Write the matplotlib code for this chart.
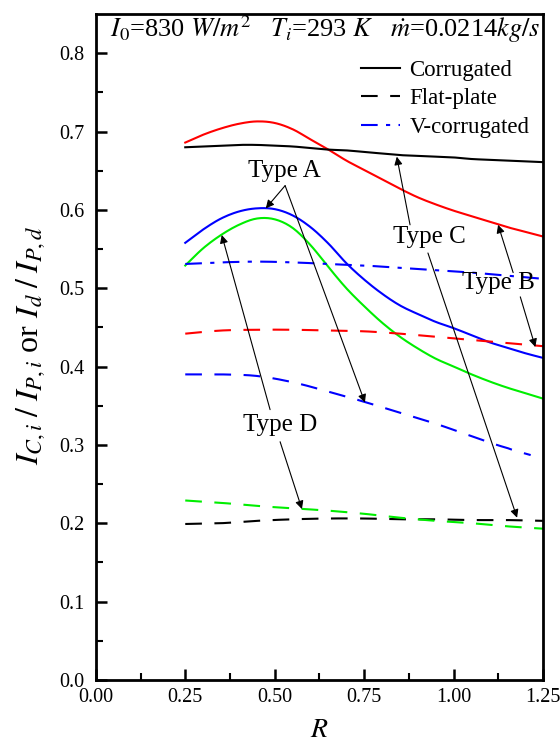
import matplotlib
matplotlib.use("Agg")
import matplotlib.pyplot as plt
import numpy as np

plt.rcParams['font.family'] = ['Liberation Serif', 'DejaVu Serif']
plt.rcParams['mathtext.fontset'] = 'stix'

# Data
R_full = [0.25, 0.30, 0.35, 0.40, 0.45, 0.50, 0.55, 0.60, 0.65, 0.70, 0.75,
          0.80, 0.85, 0.90, 0.95, 1.00, 1.05, 1.10, 1.15, 1.20, 1.25]
corr_solid = [0.680, 0.681, 0.682, 0.683, 0.683, 0.682, 0.681, 0.679, 0.677, 0.676, 0.674,
              0.672, 0.670, 0.669, 0.668, 0.667, 0.665, 0.664, 0.663, 0.662, 0.661]
red_solid = [0.686, 0.696, 0.704, 0.710, 0.713, 0.711, 0.703, 0.690, 0.677, 0.663, 0.651,
             0.639, 0.627, 0.616, 0.607, 0.599, 0.592, 0.585, 0.578, 0.572, 0.566]
blue_solid = [0.558, 0.575, 0.589, 0.598, 0.602, 0.601, 0.593, 0.578, 0.557, 0.532, 0.511,
              0.493, 0.478, 0.467, 0.457, 0.449, 0.440, 0.431, 0.424, 0.417, 0.411]
green_solid = [0.529, 0.551, 0.568, 0.581, 0.589, 0.588, 0.577, 0.555, 0.527, 0.500, 0.477,
               0.456, 0.438, 0.423, 0.410, 0.400, 0.390, 0.381, 0.373, 0.366, 0.359]

R_coarse = [0.25, 0.35, 0.45, 0.55, 0.65, 0.75, 0.85, 0.95, 1.05, 1.15, 1.25]
vcorr_dashdot = [0.531, 0.533, 0.534, 0.533, 0.531, 0.529, 0.526, 0.523, 0.520, 0.516, 0.512]
red_dashed = [0.442, 0.446, 0.447, 0.447, 0.446, 0.445, 0.442, 0.438, 0.434, 0.430, 0.426]
green_dashed = [0.229, 0.226, 0.222, 0.219, 0.216, 0.212, 0.207, 0.203, 0.200, 0.196, 0.193]
flat_dashed = [0.199, 0.200, 0.203, 0.205, 0.206, 0.206, 0.205, 0.205, 0.204, 0.204, 0.203]

R_blue_dashed = [0.25, 0.35, 0.45, 0.55, 0.65, 0.75, 0.85, 0.95, 1.05, 1.15, 1.215]
blue_dashed = [0.390, 0.390, 0.388, 0.380, 0.368, 0.355, 0.341, 0.327, 0.311, 0.296, 0.287]

x_ticks = [0.00, 0.25, 0.50, 0.75, 1.00, 1.25]
y_ticks = [0.0, 0.1, 0.2, 0.3, 0.4, 0.5, 0.6, 0.7, 0.8]

def smooth(x, y, n=200):
    x = np.asarray(x); y = np.asarray(y)
    xs = np.linspace(x[0], x[-1], n)
    out = np.empty_like(xs)
    for k, xv in enumerate(xs):
        i = min(max(np.searchsorted(x, xv) - 1, 0), len(x) - 2)
        p0 = y[i - 1] if i > 0 else 2 * y[i] - y[i + 1]
        p1, p2 = y[i], y[i + 1]
        p3 = y[i + 2] if i + 2 < len(y) else 2 * y[i + 1] - y[i]
        t = (xv - x[i]) / (x[i + 1] - x[i])
        out[k] = 0.5 * ((2 * p1) + (-p0 + p2) * t + (2 * p0 - 5 * p1 + 4 * p2 - p3) * t ** 2
                        + (-p0 + 3 * p1 - 3 * p2 + p3) * t ** 3)
    return xs, out

fig = plt.figure(figsize=(5.6, 7.43), dpi=100)
ax = fig.add_axes([0.171, 0.085, 0.799, 0.896])

lw = 1.5
dash = (0, (8, 6))
ax.plot(*smooth(R_full, red_solid), color='#ff0000', lw=lw)
ax.plot(*smooth(R_full, corr_solid), color='black', lw=lw, label='Corrugated')
ax.plot(*smooth(R_full, blue_solid), color='#0000ff', lw=lw)
ax.plot(*smooth(R_full, green_solid), color='#00ee00', lw=lw)
ax.plot(*smooth(R_coarse, flat_dashed), color='black', lw=lw, linestyle=dash, label='Flat-plate')
ax.plot(*smooth(R_coarse, vcorr_dashdot), color='#0000ff', lw=lw, linestyle=(0, (8, 4, 2, 4)),
        label='V-corrugated')
ax.plot(*smooth(R_coarse, red_dashed), color='#ff0000', lw=lw, linestyle=dash)
ax.plot(*smooth(R_blue_dashed, blue_dashed), color='#0000ff', lw=lw, linestyle=dash)
ax.plot(*smooth(R_coarse, green_dashed), color='#00ee00', lw=lw, linestyle=dash)

ax.set_xlim(0, 1.25)
ax.set_ylim(0, 0.85)
ax.set_xticks(x_ticks)
ax.set_xticklabels([f"{v:.2f}" for v in x_ticks])
ax.set_yticks(y_ticks)
ax.set_yticklabels([f"{v:.1f}" for v in y_ticks])
ax.set_xticks(np.arange(0.125, 1.25, 0.25), minor=True)
ax.set_yticks(np.arange(0.05, 0.85, 0.1), minor=True)
ax.tick_params(which='major', direction='in', length=8, width=1.8, labelsize=14.5,
               top=False, right=False)
ax.tick_params(axis='y', which='major', pad=8)
ax.tick_params(axis='x', which='major', pad=6)
ax.tick_params(which='minor', direction='in', length=5, width=1.5, top=False, right=False)
for s in ax.spines.values():
    s.set_linewidth(2)

ax.set_xlabel('$R$', fontsize=20, labelpad=8)
ax.set_ylabel(r'$I_{C,i}\;/\;I_{P,i}$ or $I_d\;/\;I_{P,d}$', fontsize=23)
ax.yaxis.set_label_coords(-0.108, 0.503)

ax.text(0.031, 0.9655,
        r'$I_0$=830 $W/m^2$   $T_i$=293 $K$   $\dot{m}$=0.0214$kg/s$',
        transform=ax.transAxes, fontsize=19, va='baseline', ha='left')

leg = ax.legend(loc='upper right', bbox_to_anchor=(1.0, 0.952), frameon=False, fontsize=16.5,
                handlelength=1.7, handletextpad=0.4, labelspacing=0.33, borderaxespad=0.2)

ap = dict(arrowstyle='-|>', color='black', lw=0.8, mutation_scale=12, shrinkA=0, shrinkB=0)
tfs = 18
# Type A
ax.text(0.526, 0.650, 'Type A', fontsize=tfs, ha='center', va='center')
ax.annotate('', xy=(0.475, 0.602), xytext=(0.529, 0.631), arrowprops=ap)
ax.annotate('', xy=(0.752, 0.354), xytext=(0.529, 0.631), arrowprops=ap)
# Type D
ax.text(0.515, 0.326, 'Type D', fontsize=tfs, ha='center', va='center')
ax.annotate('', xy=(0.352, 0.568), xytext=(0.487, 0.345), arrowprops=ap)
ax.annotate('', xy=(0.576, 0.218), xytext=(0.515, 0.304), arrowprops=ap)
# Type C
ax.text(0.932, 0.565, 'Type C', fontsize=tfs, ha='center', va='center')
ax.annotate('', xy=(0.841, 0.668), xytext=(0.878, 0.581), arrowprops=ap)
ax.annotate('', xy=(1.177, 0.207), xytext=(0.928, 0.545), arrowprops=ap)
# Type B
ax.text(1.125, 0.507, 'Type B', fontsize=tfs, ha='center', va='center')
ax.annotate('', xy=(1.124, 0.581), xytext=(1.166, 0.520), arrowprops=ap)
ax.annotate('', xy=(1.228, 0.425), xytext=(1.186, 0.489), arrowprops=ap)

fig.savefig('out.png', dpi=100, facecolor='white')
